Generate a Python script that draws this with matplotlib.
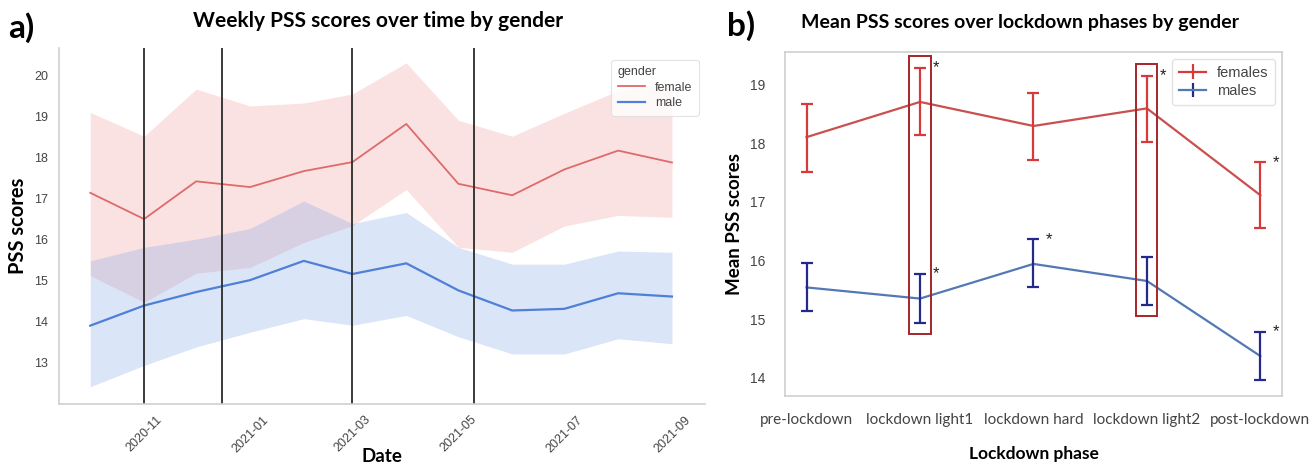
import numpy as np
import pandas as pd
import matplotlib
matplotlib.use("Agg")
import matplotlib.pyplot as plt
import matplotlib.dates as mdates
from matplotlib import font_manager
from matplotlib.patches import Rectangle

# ── panel a data (monthly points) ─────────────────────────────────────────────
months = pd.date_range("2020-10-01", "2021-09-01", freq="MS")
female_mean = [17.15, 16.51, 17.43, 17.29, 17.68, 17.90, 18.83, 17.37, 17.09, 17.72, 18.18, 17.89]
female_lo = [15.13, 14.48, 15.19, 15.33, 15.94, 16.35, 17.23, 15.82, 15.70, 16.34, 16.60, 16.55]
female_hi = [19.11, 18.53, 19.68, 19.27, 19.34, 19.56, 20.32, 18.92, 18.53, 19.09, 19.64, 19.80]
male_mean = [13.91, 14.40, 14.73, 15.02, 15.49, 15.17, 15.43, 14.77, 14.28, 14.32, 14.70, 14.62]
male_lo = [12.42, 12.94, 13.39, 13.75, 14.08, 13.92, 14.16, 13.64, 13.22, 13.22, 13.59, 13.47]
male_hi = [15.49, 15.82, 16.02, 16.28, 16.95, 16.40, 16.67, 15.82, 15.41, 15.41, 15.73, 15.70]
phase_breaks = pd.to_datetime(["2020-11-01", "2020-12-16", "2021-03-01", "2021-05-10"])

# ── panel b data ──────────────────────────────────────────────────────────────
phases = ["pre-lockdown", "lockdown light1", "lockdown hard", "lockdown light2", "post-lockdown"]
females = [18.10, 18.70, 18.29, 18.59, 17.11]
females_up = [18.66, 19.28, 18.86, 19.14, 17.67]
females_low = [17.50, 18.14, 17.71, 18.01, 16.55]
males = [15.54, 15.35, 15.94, 15.65, 14.37]
males_up = [15.95, 15.77, 16.36, 16.05, 14.78]
males_low = [15.13, 14.94, 15.54, 15.24, 13.97]
sig_females = [1, 3, 4]
sig_males = [1, 2, 4]
boxed = [1, 3]

installed = {f.name for f in font_manager.fontManager.ttflist}
tick_font = [f for f in ["Liberation Sans Narrow", "Liberation Sans", "DejaVu Sans"] if f in installed]
head_font = [f for f in ["Lato", "Open Sans", "DejaVu Sans"] if f in installed]
plt.rcParams["font.family"] = tick_font

GRAY = "#cfcfcf"
F_LINE, F_FILL = "#de6a6a", "#ef7b7b"
M_LINE, M_FILL = "#4f7fd6", "#6f98e4"

fig = plt.figure(figsize=(13.14, 4.67), dpi=100)

# ── a) ────────────────────────────────────────────────────────────────────────
ax1 = fig.add_axes([0.0449, 0.135, 0.4916, 0.762])
ax1.fill_between(months, female_lo, female_hi, color=F_FILL, alpha=0.22, lw=0)
ax1.fill_between(months, male_lo, male_hi, color=M_FILL, alpha=0.25, lw=0)
ax1.plot(months, female_mean, color=F_LINE, lw=1.3, label="female")
ax1.plot(months, male_mean, color=M_LINE, lw=1.6, label="male")
for d in phase_breaks:
    ax1.axvline(d, color="#2b2b2b", lw=1.3)

ax1.set_xlim(pd.Timestamp("2020-09-13"), pd.Timestamp("2021-09-20"))
ax1.set_ylim(12.0, 20.68)
ax1.set_yticks(range(13, 21))
ax1.xaxis.set_major_locator(mdates.MonthLocator(bymonth=[1, 3, 5, 7, 9, 11]))
ax1.xaxis.set_major_formatter(mdates.DateFormatter("%Y-%m"))
ax1.tick_params(length=0, labelsize=9, labelcolor="#444444")
ax1.tick_params(axis="x", pad=7)
ax1.tick_params(axis="y", pad=8)
for lbl in ax1.get_xticklabels():
    lbl.set_rotation(45)
    lbl.set_ha("center")
for s in ["top", "right"]:
    ax1.spines[s].set_visible(False)
for s in ["left", "bottom"]:
    ax1.spines[s].set_color(GRAY)
    ax1.spines[s].set_linewidth(1.2)
ax1.set_xlabel("Date", fontsize=13.5, fontweight="bold", family=head_font)
ax1.xaxis.set_label_coords(0.5, -0.125)
ax1.set_ylabel("PSS scores", fontsize=14.5, fontweight="bold", family=head_font, labelpad=4)
leg1 = ax1.legend(title="gender", loc="upper right", bbox_to_anchor=(1.0, 0.985),
                  fontsize=9, title_fontsize=9, frameon=True, handlelength=2.2,
                  borderpad=0.5, labelspacing=0.3)
leg1._legend_box.align = "left"
leg1.get_frame().set_edgecolor("#dddddd")
leg1.get_frame().set_linewidth(0.8)
for t in leg1.get_texts() + [leg1.get_title()]:
    t.set_color("#444444")

fig.text(0.006, 0.94, "a)", fontsize=24, fontweight="bold", family=head_font, va="center")
fig.text(0.2877, 0.955, "Weekly PSS scores over time by gender", fontsize=15,
         fontweight="bold", family=head_font, ha="center", va="center")

# ── b) ────────────────────────────────────────────────────────────────────────
ax2 = fig.add_axes([0.5974, 0.152, 0.3782, 0.7366])
x = np.arange(len(phases))
f = np.array(females)
m = np.array(males)
f_err = [f - np.array(females_low), np.array(females_up) - f]
m_err = [m - np.array(males_low), np.array(males_up) - m]

ax2.plot(x, f, color="#c9504f", lw=1.6, zorder=2)
ax2.plot(x, m, color="#5478b4", lw=1.6, zorder=2)
ax2.errorbar(x, f, yerr=f_err, fmt="none", ecolor="#d73a3a", elinewidth=1.6,
             capsize=4, capthick=1.6, zorder=3)
ax2.errorbar(x, m, yerr=m_err, fmt="none", ecolor="#242a8c", elinewidth=1.6,
             capsize=4, capthick=1.6, zorder=3)
# legend handles: errorbar with line through it
ax2.errorbar([], [], yerr=[], color="#d73a3a", ecolor="#d73a3a", lw=1.6, capsize=4,
             label="females")
ax2.errorbar([], [], yerr=[], color="#5478b4", ecolor="#242a8c", lw=1.6, capsize=4,
             label="males")

for i in sig_females:
    ax2.text(x[i] + 0.14, females_up[i], "*", fontsize=12, ha="center", va="center",
             color="#222222")
for i in sig_males:
    ax2.text(x[i] + 0.14, males_up[i], "*", fontsize=12, ha="center", va="center",
             color="#222222")
for i in boxed:
    lo = males_low[i] - 0.19
    hi = females_up[i] + 0.21
    ax2.add_patch(Rectangle((x[i] - 0.093, lo), 0.186, hi - lo, fill=False,
                            edgecolor="#a3262a", lw=1.4, zorder=4))

ax2.set_xlim(-0.19, 4.19)
ax2.set_ylim(13.69, 19.55)
ax2.set_xticks(x)
ax2.set_xticklabels(phases, family=head_font, fontsize=11)
ax2.set_yticks(range(14, 20))
ax2.tick_params(length=0, labelcolor="#444444")
ax2.tick_params(axis="x", pad=12)
ax2.tick_params(axis="y", pad=14, labelsize=10)
for s in ax2.spines.values():
    s.set_color(GRAY)
    s.set_linewidth(1.2)
ax2.set_xlabel("Lockdown phase", fontsize=12.5, fontweight="bold", family=head_font, labelpad=14)
ax2.set_ylabel("Mean PSS scores", fontsize=13.5, fontweight="bold", family=head_font, labelpad=5)
leg2 = ax2.legend(loc="upper right", fontsize=10.5, frameon=True, handlelength=1.9,
                  borderpad=0.45, labelspacing=0.3, handletextpad=0.7)
leg2.get_frame().set_edgecolor("#dddddd")
for t in leg2.get_texts():
    t.set_color("#444444")

fig.text(0.553, 0.946, "b)", fontsize=24, fontweight="bold", family=head_font, va="center")
fig.text(0.776, 0.951, "Mean PSS scores over lockdown phases by gender", fontsize=14,
         fontweight="bold", family=head_font, ha="center", va="center")

fig.savefig("out.png", dpi=100)
